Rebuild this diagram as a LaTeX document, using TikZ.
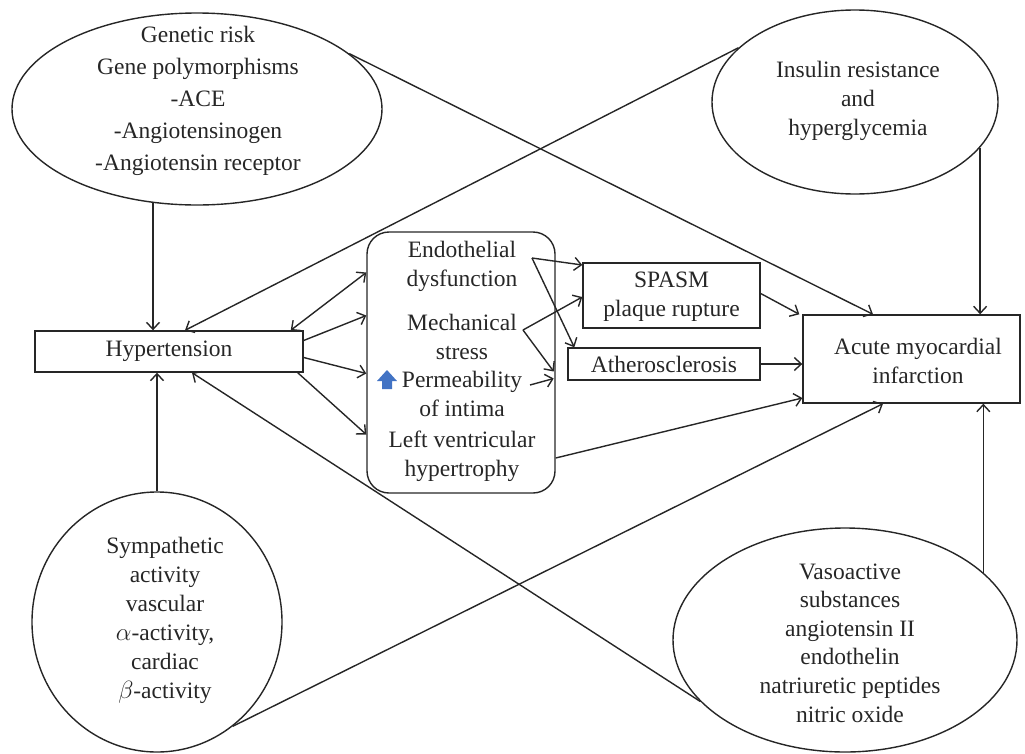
\documentclass[tikz,border=0pt]{standalone}
\usepackage{fontspec}
\setmainfont{Liberation Serif}
\usetikzlibrary{shapes.geometric,arrows.meta}
\definecolor{ink}{gray}{0.15}
\definecolor{upblue}{rgb}{0.26,0.45,0.77}
\begin{document}
\begin{tikzpicture}[x=1pt,y=-1pt,
  every node/.style={text=ink},
  txt/.style={align=center, inner sep=0pt, font=\fontsize{23.5}{29}\selectfont},
  ln/.style={line width=1.4pt, draw=ink},
  arr/.style={ln, -{Straight Barb[length=7pt,width=13pt]}},
  darr/.style={ln, {Straight Barb[length=7pt,width=13pt]}-{Straight Barb[length=7pt,width=13pt]}},
  ell/.style={ellipse, draw=ink, line width=1.4pt, inner sep=0pt},
  box/.style={rectangle, draw=ink, line width=1.4pt, inner sep=0pt},
]
\useasboundingbox (0,0) rectangle (1025,753);

% ellipses
\node[ell, minimum width=370pt, minimum height=192pt] (gen) at (197,109) {};
\node[txt, font=\fontsize{23.5}{32}\selectfont] (gent) at (198,101)
  {Genetic risk\\Gene polymorphisms\\-ACE\\-Angiotensinogen\\-Angiotensin receptor};

\node[ell, minimum width=286pt, minimum height=184pt] (ins) at (855,102) {};
\node[txt] (inst) at (858,101) {Insulin resistance\\and\\hyperglycemia};

\node[ell, minimum width=250pt, minimum height=260pt] (sym) at (157,622) {};
\node[txt] (symt) at (165,620)
  {Sympathetic\\activity\\vascular\\$\alpha$-activity,\\cardiac\\$\beta$-activity};

\node[ell, minimum width=344pt, minimum height=224pt] (vas) at (845,640) {};
\node[txt, font=\fontsize{23.5}{28.6}\selectfont] (vast) at (850,643)
  {Vasoactive\\substances\\angiotensin II\\endothelin\\natriuretic peptides\\nitric oxide};

% boxes
\node[box, minimum width=268pt, minimum height=41pt] (hyp) at (169,351.5) {};
\node[txt] (hypt) at (169,351.5) {Hypertension};

\node[box, rounded corners=22pt, minimum width=188pt, minimum height=261pt] (cen) at (461,362.5) {};
\node[txt] (endo) at (462,266) {Endothelial\\dysfunction};
\node[txt] (mech) at (462,337) {Mechanical\\stress};
\node[txt] (perm) at (462,394) {Permeability\\of intima};
\node[txt] (lvh) at (462,456) {Left ventricular\\hypertrophy};

\node[box, minimum width=177pt, minimum height=65pt] (spasm) at (671.5,295.5) {};
\node[txt] (spasmt) at (671.5,297) {SPASM\\plaque rupture};

\node[box, minimum width=192pt, minimum height=32pt] (ath) at (664,364) {};
\node[txt] (atht) at (664,364) {Atherosclerosis};

\node[box, minimum width=217pt, minimum height=88pt] (ami) at (911.5,359) {};
\node[txt] (amit) at (918,361) {Acute myocardial\\infarction};

% blue up arrow
\fill[upblue] (377,381) -- (387,370) -- (397,381) -- (392,381) -- (392,389) -- (382,389) -- (382,381) -- cycle;

% free ends inside the central box
\coordinate (endoE) at (532,258);
\coordinate (mechE) at (523,330);
\coordinate (permE) at (530,385);

% connectors
\draw[arr] ([xshift=-44pt,yshift=3pt]gen.south) -- ([xshift=-16pt]hyp.north);
\draw[arr] (ins.155) -- ([xshift=16pt]hyp.north);
\draw[darr] ([xshift=-13pt]hyp.north east) -- ([yshift=90pt]cen.west);
\draw[arr] ([yshift=11pt]hyp.east) -- ([yshift=47pt]cen.west);
\draw[arr] ([yshift=-6pt]hyp.east) -- ([yshift=-11pt]cen.west);
\draw[arr] ([xshift=-6pt]hyp.south east) -- ([yshift=-72pt]cen.west);

\draw[arr] (gen.20) -- ([xshift=-38.5pt]ami.north);
\draw[arr] (ins.-20) -- (ins.-20 |- ami.north);
\draw[arr] ([yshift=2pt]spasm.east) -- ([xshift=-3pt]ami.north west);
\draw[arr] (ath.east) -- (ath.east -| ami.west);
\draw[arr] ([yshift=-95.5pt]cen.east) -- ([yshift=-39pt]ami.west);
\draw[arr] (sym.-54) -- ([xshift=-28.5pt]ami.south);
\draw[arr] (vas.203) -- ([xshift=23pt]hyp.south);
\draw[arr] (vas.26) -- (vas.26 |- ami.south);
\draw[arr] (sym.north) -- (sym.north |- hyp.south);

\draw[arr] (endoE) -- ([yshift=30.5pt]spasm.west);
\draw[arr] (endoE) -- ([xshift=7pt]ath.north west);
\draw[arr] (mechE) -- ([yshift=-1.5pt]spasm.west);
\draw[arr] (mechE) -- ([xshift=-2pt,yshift=-9pt]cen.east);
\draw[arr] (permE) -- ([xshift=-2pt,yshift=-16pt]cen.east);
\end{tikzpicture}
\end{document}
